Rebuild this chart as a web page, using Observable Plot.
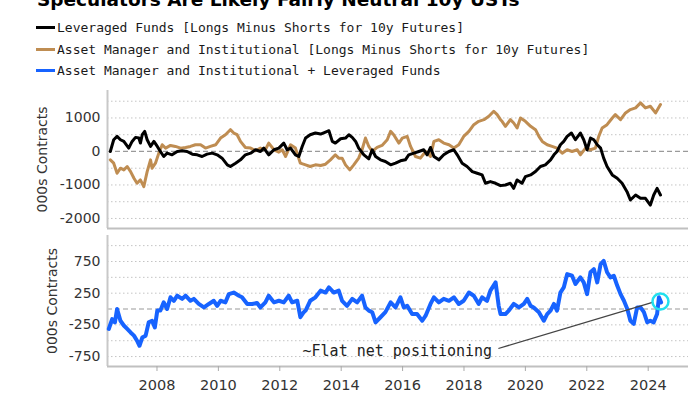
<!DOCTYPE html>
<html><head><meta charset="utf-8">
<script src="https://cdn.jsdelivr.net/npm/d3@7"></script>
<script src="https://cdn.jsdelivr.net/npm/@observablehq/plot@0.6"></script>
<style>
html,body{margin:0;padding:0;background:#fff;}
#wrap{position:relative;width:700px;height:394px;overflow:hidden;background:#fff;}
.title{position:absolute;left:37px;top:-9px;font:bold 18.5px "DejaVu Sans";line-height:18.5px;white-space:nowrap;color:#000;}
.leg{position:absolute;left:36px;height:16px;font:13px "DejaVu Sans Mono";line-height:16px;white-space:nowrap;color:#1a1a1a;}
.leg .sw{display:inline-block;width:19px;height:3px;vertical-align:middle;margin-right:2px;position:relative;top:-1px;}
.panel{position:absolute;left:0;}
</style></head>
<body>
<div id="wrap">
  <div class="title">Speculators Are Likely Fairly Neutral 10y USTs</div>
  <div id="legend"></div>
  <div class="panel" id="top" style="top:80px"></div>
  <div class="panel" id="bottom" style="top:232px"></div>
</div>
<script>
const titleText = "Speculators Are Likely Fairly Neutral 10y USTs";
const seriesNames = [
  "Leveraged Funds [Longs Minus Shorts for 10y Futures]",
  "Asset Manager and Institutional [Longs Minus Shorts for 10y Futures]",
  "Asset Manager and Institutional + Leveraged Funds"
];
const seriesColors = ["#000000", "#bf8d52", "#1763ff"];
const yLabel = "000s Contracts";
const noteText = "~Flat net positioning";

const xTicks = [2008, 2010, 2012, 2014, 2016, 2018, 2020, 2022, 2024];
const topTicks = [1000, 0, -1000, -2000];
const topGrid = [1500, 1000, 500, -500, -1000, -1500, -2000];
const botTicks = [750, 250, -250, -750];
const botGrid = [1000, 750, 500, 250, -250, -500, -750];

const blackDates = [2006.48,2006.59,2006.70,2006.81,2006.92,2007.08,2007.19,2007.30,2007.41,2007.46,2007.52,2007.60,2007.68,2007.79,2007.90,2008.01,2008.11,2008.22,2008.33,2008.49,2008.66,2008.82,2008.98,2009.15,2009.31,2009.47,2009.63,2009.80,2009.96,2010.12,2010.29,2010.39,2010.56,2010.72,2010.88,2011.05,2011.21,2011.37,2011.48,2011.64,2011.81,2011.97,2012.13,2012.24,2012.35,2012.51,2012.62,2012.73,2012.84,2012.99,2013.16,2013.33,2013.49,2013.60,2013.71,2013.81,2013.98,2014.14,2014.25,2014.36,2014.47,2014.57,2014.74,2014.90,2015.01,2015.12,2015.28,2015.44,2015.61,2015.77,2015.93,2016.09,2016.20,2016.37,2016.53,2016.69,2016.80,2016.91,2017.02,2017.18,2017.34,2017.51,2017.67,2017.78,2017.94,2018.10,2018.27,2018.43,2018.59,2018.70,2018.86,2019.03,2019.19,2019.35,2019.51,2019.62,2019.73,2019.89,2020.00,2020.17,2020.33,2020.49,2020.65,2020.82,2020.93,2021.03,2021.14,2021.25,2021.36,2021.50,2021.63,2021.79,2021.90,2022.01,2022.12,2022.23,2022.34,2022.45,2022.55,2022.66,2022.83,2022.99,2023.15,2023.31,2023.42,2023.59,2023.75,2023.91,2024.07,2024.18,2024.29,2024.40];
const blackValues = [0,350,450,350,300,100,300,420,400,250,500,600,350,150,300,150,0,-150,-50,-100,0,20,0,-80,-100,-150,-80,-50,-100,-200,-400,-450,-350,-250,-100,-50,50,0,100,-100,50,100,250,50,100,-100,-150,150,400,500,550,520,580,620,300,250,380,400,500,420,300,100,-100,-220,50,-150,-250,-300,-400,-350,-280,-250,-100,-50,0,50,-100,120,-150,-250,-100,0,50,-100,-350,-450,-600,-650,-700,-950,-900,-950,-1020,-1000,-950,-1100,-850,-950,-750,-700,-600,-450,-400,-250,-100,0,200,300,450,550,350,550,350,50,400,350,200,100,-200,-450,-700,-800,-950,-1200,-1450,-1300,-1400,-1400,-1600,-1300,-1100,-1300];

const tanDates = [2006.48,2006.59,2006.70,2006.81,2006.92,2007.03,2007.14,2007.25,2007.35,2007.46,2007.57,2007.68,2007.79,2007.84,2007.95,2008.06,2008.17,2008.28,2008.44,2008.60,2008.77,2008.93,2009.09,2009.25,2009.42,2009.58,2009.74,2009.91,2010.07,2010.23,2010.39,2010.50,2010.61,2010.72,2010.88,2011.05,2011.21,2011.37,2011.53,2011.64,2011.81,2011.97,2012.08,2012.19,2012.35,2012.51,2012.67,2012.84,2012.99,2013.16,2013.33,2013.49,2013.65,2013.81,2013.92,2014.03,2014.14,2014.28,2014.41,2014.57,2014.68,2014.79,2014.90,2015.01,2015.17,2015.33,2015.50,2015.61,2015.71,2015.88,2015.99,2016.15,2016.26,2016.42,2016.58,2016.75,2016.91,2017.02,2017.18,2017.34,2017.51,2017.67,2017.83,2017.99,2018.16,2018.32,2018.48,2018.65,2018.81,2018.97,2019.08,2019.19,2019.24,2019.35,2019.51,2019.62,2019.73,2019.84,2020.00,2020.17,2020.33,2020.44,2020.55,2020.71,2020.87,2021.03,2021.20,2021.36,2021.52,2021.69,2021.79,2021.96,2022.12,2022.28,2022.39,2022.50,2022.66,2022.83,2022.93,2023.10,2023.26,2023.42,2023.59,2023.75,2023.91,2024.07,2024.24,2024.40];
const tanValues = [-250,-350,-650,-500,-550,-450,-600,-800,-950,-850,-1050,-600,-250,-500,-350,-50,200,100,180,150,100,120,150,200,200,100,150,200,400,500,650,550,500,300,120,100,20,100,50,250,50,-20,50,-150,200,100,-350,-400,-450,-400,-420,-380,-250,-100,-200,-200,-400,-550,-400,-200,50,400,150,0,120,180,350,600,500,250,400,450,150,-150,-200,0,-150,300,350,250,200,100,200,450,600,800,900,950,1050,1200,1100,950,900,750,950,850,700,1000,900,750,650,450,300,200,150,100,-50,50,0,50,-100,100,50,100,450,700,800,1000,1100,950,1150,1250,1300,1450,1300,1350,1150,1400];

const blueDates = [2006.43,2006.54,2006.63,2006.70,2006.81,2006.92,2007.03,2007.14,2007.25,2007.35,2007.43,2007.52,2007.63,2007.73,2007.84,2007.93,2008.01,2008.11,2008.22,2008.33,2008.44,2008.55,2008.66,2008.82,2008.93,2009.09,2009.20,2009.36,2009.53,2009.69,2009.85,2009.96,2010.07,2010.23,2010.34,2010.50,2010.67,2010.77,2010.94,2011.10,2011.26,2011.37,2011.53,2011.64,2011.81,2011.97,2012.13,2012.29,2012.40,2012.57,2012.67,2012.78,2012.84,2012.99,2013.16,2013.33,2013.49,2013.60,2013.76,2013.92,2014.03,2014.19,2014.36,2014.52,2014.68,2014.79,2014.90,2015.01,2015.12,2015.28,2015.44,2015.61,2015.77,2015.93,2016.04,2016.15,2016.31,2016.47,2016.64,2016.75,2016.91,2017.02,2017.18,2017.34,2017.51,2017.67,2017.83,2017.99,2018.16,2018.32,2018.48,2018.59,2018.75,2018.86,2019.03,2019.13,2019.19,2019.35,2019.46,2019.62,2019.79,2019.95,2020.06,2020.17,2020.27,2020.44,2020.60,2020.71,2020.82,2020.93,2021.03,2021.14,2021.25,2021.36,2021.52,2021.63,2021.79,2021.90,2022.01,2022.12,2022.23,2022.34,2022.45,2022.55,2022.66,2022.77,2022.88,2022.99,2023.10,2023.21,2023.32,2023.42,2023.53,2023.64,2023.75,2023.86,2023.97,2024.07,2024.18,2024.29,2024.35,2024.42];
const blueValues = [-315,-160,-210,0,-185,-260,-315,-370,-420,-500,-580,-450,-420,-210,-185,-290,-25,-25,105,0,185,130,210,160,210,130,160,80,25,80,130,50,130,105,235,260,210,185,80,80,95,25,105,210,105,130,105,210,105,130,-130,-50,-25,130,185,290,260,340,260,290,130,50,160,105,210,25,-25,-50,-210,-130,-50,105,25,185,25,50,-80,-80,-185,-105,80,185,105,160,130,185,80,130,260,210,80,185,130,290,420,50,-80,-80,-25,80,25,80,160,50,25,-50,-185,-80,-25,80,-25,260,340,550,525,395,500,420,235,580,630,420,710,760,580,500,525,370,235,130,0,-185,-235,25,25,-50,-210,-185,-210,-80,185,105];

// annotation anchors (data coordinates)
const noteAt = {x: 2012.74, y: -670};
const noteLine = {x1: 2019.12, y1: -623, x2: 2024.14, y2: 103};
const circleAt = {x: 2024.40, y: 118};

const xDomain = [2006.388, 2025.313];
const topDomain = [-2300, 1820];
const botDomain = [-907, 1160];

const toRows = (ds, vs) => ds.map((d, i) => ({d, v: vs[i]}));
const black = toRows(blackDates, blackValues);
const tan = toRows(tanDates, tanValues);
const blue = toRows(blueDates, blueValues);

// legend
const leg = document.getElementById("legend");
const legY = [28, 50, 71];
seriesNames.forEach((n, i) => {
  const el = document.createElement("div");
  el.className = "leg";
  el.style.top = (legY[i] - 8) + "px";
  el.innerHTML = `<span class="sw" style="background:${seriesColors[i]}"></span>`;
  el.appendChild(document.createTextNode(n));
  leg.appendChild(el);
});

const fmt = d => String(d);
const style = {fontFamily: "DejaVu Sans", fontSize: "14px", color: "#333", background: "transparent", overflow: "visible"};

const topPlot = Plot.plot({
  width: 700, height: 152, marginLeft: 107, marginRight: 12, marginTop: 10, marginBottom: 4,
  style,
  x: {domain: xDomain, axis: null},
  y: {domain: topDomain},
  marks: [
    Plot.ruleY(topGrid, {stroke: "#c4c4c4", strokeDasharray: "1.5,2.5"}),
    Plot.ruleY([0], {stroke: "#9a9a9a", strokeDasharray: "5,3", strokeWidth: 1.2}),
    Plot.ruleX([xDomain[0]], {stroke: "#c8c8c8", strokeWidth: 2}),
    Plot.ruleY([topDomain[0]], {stroke: "#c0c0c0", strokeWidth: 2}),
    Plot.axisY(topTicks, {tickSize: 0, tickPadding: 7, tickFormat: fmt, fill: "#333", label: yLabel, labelAnchor: "center", labelArrow: "none", labelOffset: 70}),
    Plot.lineY(tan, {x: "d", y: "v", stroke: seriesColors[1], strokeWidth: 3}),
    Plot.lineY(black, {x: "d", y: "v", stroke: seriesColors[0], strokeWidth: 3})
  ]
});
document.getElementById("top").appendChild(topPlot);

const botPlot = Plot.plot({
  width: 700, height: 162, marginLeft: 107, marginRight: 12, marginTop: 3, marginBottom: 28,
  style,
  x: {domain: xDomain},
  y: {domain: botDomain},
  marks: [
    Plot.ruleY(botGrid, {stroke: "#c4c4c4", strokeDasharray: "1.5,2.5"}),
    Plot.ruleY([0], {stroke: "#9a9a9a", strokeDasharray: "5,3", strokeWidth: 1.2}),
    Plot.ruleX([xDomain[0]], {stroke: "#c8c8c8", strokeWidth: 2}),
    Plot.ruleY([botDomain[0]], {stroke: "#c0c0c0", strokeWidth: 2}),
    Plot.axisY(botTicks, {tickSize: 0, tickPadding: 7, tickFormat: fmt, fill: "#333", label: yLabel, labelAnchor: "center", labelArrow: "none", labelOffset: 60}),
    Plot.axisX(xTicks, {tickSize: 5, tickPadding: 8, tickFormat: fmt, stroke: "#aaa", fill: "#333", fontSize: 14.5, label: null}),
    Plot.lineY(blue, {x: "d", y: "v", stroke: seriesColors[2], strokeWidth: 4}),
    Plot.link([noteLine], {x1: "x1", y1: "y1", x2: "x2", y2: "y2", stroke: "#444", strokeWidth: 1.3}),
    Plot.text([noteAt], {x: "x", y: "y", text: () => noteText, textAnchor: "start", fontFamily: "DejaVu Sans Mono", fontSize: 15, fill: "#222"}),
    Plot.dot([circleAt], {x: "x", y: "y", r: 8, stroke: "#22e0ee", strokeWidth: 2.5, fill: "none"})
  ]
});
document.getElementById("bottom").appendChild(botPlot);
</script>
</body></html>
